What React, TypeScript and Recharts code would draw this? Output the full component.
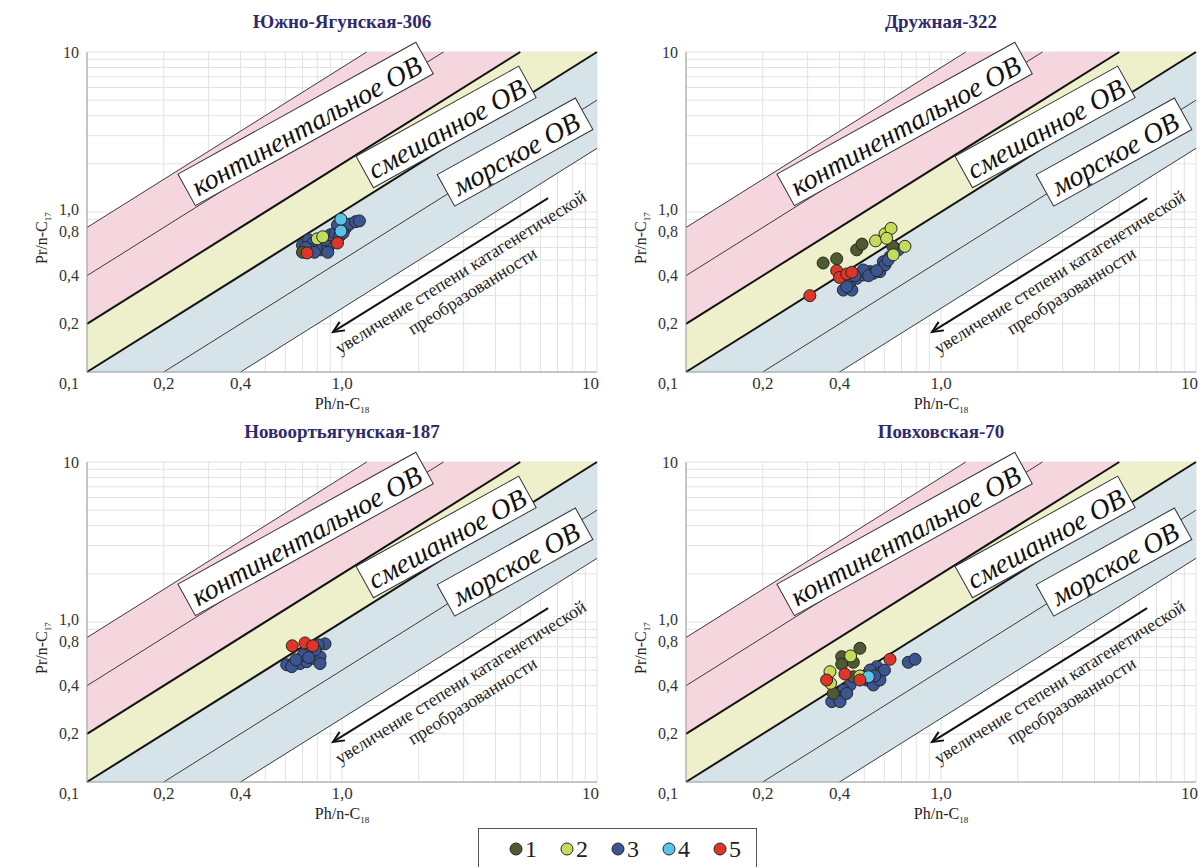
import React from 'react';
import { ComposedChart, Area, Scatter, XAxis, YAxis, CartesianGrid, ReferenceLine, ReferenceDot } from 'recharts';

type Pair = [number, number];

// groups 1..5
const GROUP_NAMES = ['1', '2', '3', '4', '5'];
const GROUP_COLORS = ['#4f5a30', '#c5dc5a', '#3b5591', '#5bc2e9', '#df3529'];
const DRAW_ORDER = [2, 0, 1, 3, 4];

// Южно-Ягунская-306
const YAG_1: Pair[] = [[0.70, 0.56]];
const YAG_2: Pair[] = [[0.80, 0.68], [0.84, 0.70]];
const YAG_3: Pair[] = [
    [0.70, 0.62], [0.74, 0.67], [0.77, 0.64], [0.80, 0.61], [0.83, 0.58], [0.88, 0.60], [0.91, 0.64],
    [0.75, 0.58], [0.78, 0.56], [0.86, 0.67], [0.90, 0.72], [0.94, 0.74], [0.98, 0.71], [1.03, 0.79],
    [1.07, 0.84], [1.13, 0.87], [1.17, 0.88], [0.96, 0.83], [1.01, 0.74], [0.88, 0.56], [0.72, 0.60],
];
const YAG_4: Pair[] = [[0.99, 0.90], [0.99, 0.76]];
const YAG_5: Pair[] = [[0.73, 0.555], [0.96, 0.64]];

// Дружная-322
const DRU_1: Pair[] = [[0.345, 0.48], [0.39, 0.51], [0.467, 0.58], [0.49, 0.63], [0.647, 0.61]];
const DRU_2: Pair[] = [[0.554, 0.66], [0.603, 0.73], [0.637, 0.79], [0.612, 0.685], [0.722, 0.61], [0.65, 0.54]];
const DRU_3: Pair[] = [
    [0.414, 0.325], [0.447, 0.325], [0.44, 0.367], [0.467, 0.385], [0.496, 0.404], [0.527, 0.424],
    [0.576, 0.424], [0.594, 0.489], [0.631, 0.526], [0.496, 0.434], [0.543, 0.414], [0.603, 0.467],
    [0.427, 0.341], [0.46, 0.40], [0.52, 0.40], [0.56, 0.43], [0.62, 0.50], [0.68, 0.58],
];
const DRU_4: Pair[] = [];
const DRU_5: Pair[] = [[0.306, 0.30], [0.39, 0.43], [0.40, 0.39], [0.427, 0.41], [0.447, 0.42]];

// Новоортьягунская-187
const NOV_1: Pair[] = [];
const NOV_2: Pair[] = [];
const NOV_3: Pair[] = [
    [0.607, 0.54], [0.644, 0.55], [0.685, 0.55], [0.727, 0.565], [0.772, 0.593], [0.82, 0.607],
    [0.858, 0.73], [0.807, 0.72], [0.749, 0.637], [0.705, 0.62], [0.635, 0.526], [0.82, 0.55],
    [0.784, 0.668], [0.74, 0.60], [0.66, 0.58],
];
const NOV_4: Pair[] = [];
const NOV_5: Pair[] = [[0.638, 0.71], [0.716, 0.74], [0.768, 0.71]];

// Повховская-70
const POV_1: Pair[] = [[0.481, 0.685], [0.408, 0.607], [0.408, 0.545], [0.453, 0.56], [0.378, 0.358], [0.453, 0.455]];
const POV_2: Pair[] = [[0.442, 0.613], [0.367, 0.489], [0.369, 0.414], [0.481, 0.46]];
const POV_3: Pair[] = [
    [0.744, 0.56], [0.791, 0.585], [0.56, 0.526], [0.576, 0.478], [0.527, 0.501], [0.511, 0.434],
    [0.44, 0.404], [0.414, 0.376], [0.39, 0.341], [0.373, 0.318], [0.402, 0.318], [0.427, 0.358],
    [0.543, 0.404], [0.576, 0.434], [0.496, 0.445], [0.60, 0.50], [0.55, 0.46],
];
const POV_4: Pair[] = [[0.519, 0.455]];
const POV_5: Pair[] = [[0.631, 0.585], [0.356, 0.434], [0.42, 0.473], [0.481, 0.434]];

const PANELS = [
    { title: 'Южно-Ягунская-306', groups: [YAG_1, YAG_2, YAG_3, YAG_4, YAG_5] },
    { title: 'Дружная-322', groups: [DRU_1, DRU_2, DRU_3, DRU_4, DRU_5] },
    { title: 'Новоортьягунская-187', groups: [NOV_1, NOV_2, NOV_3, NOV_4, NOV_5] },
    { title: 'Повховская-70', groups: [POV_1, POV_2, POV_3, POV_4, POV_5] },
];

// genetic fields (diagonal bands), [low, high] at each x
const BAND_X = [0.1, 0.4, 1.25, 5, 10];
const CONT_LOW = [0.2, 0.8, 2.5, 10, 10];
const CONT_HIGH = [0.8, 3.2, 10, 10, 10];
const MIX_LOW = [0.1, 0.4, 1.25, 5, 10];
const MIX_HIGH = [0.2, 0.8, 2.5, 10, 10];
const MAR_LOW = [0.1, 0.1, 0.3125, 1.25, 2.5];
const MAR_HIGH = [0.1, 0.4, 1.25, 5, 10];

const bandData = BAND_X.map((x, i) => ({
    x,
    cont: [CONT_LOW[i], CONT_HIGH[i]],
    mix: [MIX_LOW[i], MIX_HIGH[i]],
    mar: [MAR_LOW[i], MAR_HIGH[i]],
}));

// boundary lines: Pr/C17 = k * Ph/C18
const BOUNDARIES: [Pair, Pair][] = [
    [[0.1, 0.8], [1.25, 10]],
    [[0.1, 0.4], [2.5, 10]],
    [[0.1, 0.2], [5, 10]],
    [[0.1, 0.1], [10, 10]],
    [[0.2, 0.1], [10, 5]],
    [[0.4, 0.1], [10, 2.5]],
];
const BOUNDARY_WIDTHS = [1, 1, 2, 2, 1, 1];

const FIELD_LABELS = ['континентальное ОВ', 'смешанное ОВ', 'морское ОВ'];
const FIELD_LABEL_POS: Pair[] = [[0.72, 3.55], [2.56, 3.4], [4.77, 2.37]];
const FIELD_BOX_W = [272, 186, 158];

const ARROW_FROM: Pair = [6.43, 1.22];
const ARROW_TO: Pair = [0.922, 0.178];
const ARROW_TEXT_POS: Pair = [2.92, 0.42];
const ARROW_TEXT = ['увеличение степени катагенетической', 'преобразованности'];

const GRID_VALUES = [0.1, 0.2, 0.3, 0.4, 0.5, 0.6, 0.7, 0.8, 0.9, 1, 2, 3, 4, 5, 6, 7, 8, 9, 10];
const X_TICKS = [0.1, 0.2, 0.4, 1, 10];
const X_TICK_LABELS = ['', '0,2', '0,4', '1,0', '10'];
const Y_TICKS = [0.1, 0.2, 0.4, 0.8, 1, 10];
const Y_TICK_LABELS = ['0,1', '0,2', '0,4', '0,8', '1,0', '10'];

const SERIF = '"Liberation Serif", "Times New Roman", serif';
const tickStyle = { fontFamily: SERIF, fontSize: 17, fill: '#333' };

const XTick = (props: any) => {
    const { x, y, payload } = props;
    const label = X_TICK_LABELS[X_TICKS.indexOf(payload.value)];
    const atEnd = payload.value === 10;
    return (
        <text x={atEnd ? x + 2 : x} y={y} dy="0.75em" textAnchor={atEnd ? 'end' : 'middle'} {...tickStyle}>
            {label}
        </text>
    );
};

// "0,1" sits under the corner, "1,0" / "0,8" are pushed apart a little
const yShift = (v: number) => (v === 0.1 ? 11 : v === 1 ? -3 : v === 0.8 ? 4 : 0);

const YTick = (props: any) => {
    const { x, y, payload } = props;
    const label = Y_TICK_LABELS[Y_TICKS.indexOf(payload.value)];
    return (
        <text x={x} y={y + yShift(payload.value)} textAnchor="end" dominantBaseline="central" {...tickStyle} fontSize={16}>
            {label}
        </text>
    );
};

const arrowShape = (p: any) => {
    const { x1, y1, x2, y2 } = p;
    const len = Math.hypot(x2 - x1, y2 - y1) || 1;
    const ux = (x2 - x1) / len;
    const uy = (y2 - y1) / len;
    const head = 11;
    const wing = 5;
    const bx = x2 - ux * head;
    const by = y2 - uy * head;
    return (
        <g>
            <line x1={x1} y1={y1} x2={x2} y2={y2} stroke="#111" strokeWidth={2} />
            <polyline
                points={`${bx - uy * wing},${by + ux * wing} ${x2},${y2} ${bx + uy * wing},${by - ux * wing}`}
                fill="none"
                stroke="#111"
                strokeWidth={2}
            />
        </g>
    );
};

const fieldLabelShape = (i: number) => (p: any) => {
    const w = FIELD_BOX_W[i];
    const h = 36;
    return (
        <g transform={`translate(${p.cx},${p.cy}) rotate(-29)`}>
            <rect x={-w / 2} y={-h / 2} width={w} height={h} fill="#fff" stroke="#333" strokeWidth={1} />
            <text
                x={0}
                y={2}
                textAnchor="middle"
                dominantBaseline="central"
                fontFamily={SERIF}
                fontStyle="italic"
                fontSize={28}
                fill="#111"
            >
                {FIELD_LABELS[i]}
            </text>
        </g>
    );
};

const arrowTextShape = (p: any) => (
    <g transform={`translate(${p.cx},${p.cy}) rotate(-32)`}>
        <text x={0} y={0} textAnchor="middle" dominantBaseline="central" fontFamily={SERIF} fontSize={18} fill="#222">
            {ARROW_TEXT[0]}
        </text>
        <text x={0} y={22} textAnchor="middle" dominantBaseline="central" fontFamily={SERIF} fontSize={18} fill="#222">
            {ARROW_TEXT[1]}
        </text>
    </g>
);

const dotShape = (color: string) => (p: any) => (
    <circle cx={p.cx} cy={p.cy} r={6} fill={color} stroke="#262626" strokeWidth={1} />
);

const Panel = ({ panel, left, top, width, rightMargin }: any) => {
    const plotLeft = left + 87;
    const plotRight = left + width - rightMargin;
    const plotCx = (plotLeft + plotRight) / 2;
    return (
        <>
            <div
                style={{
                    position: 'absolute', left: plotCx - 200, top: top + 10, width: 400, textAlign: 'center',
                    fontFamily: SERIF, fontWeight: 'bold', fontSize: 19, color: '#2e2a6c', lineHeight: '24px',
                }}
            >
                {panel.title}
            </div>
            <div
                style={{
                    position: 'absolute', left: plotCx - 100, top: top + 394, width: 200, textAlign: 'center',
                    fontFamily: SERIF, fontSize: 16, color: '#222', lineHeight: '20px',
                }}
            >
                Ph/n-C<sub style={{ fontSize: 9 }}>18</sub>
            </div>
            <div
                style={{
                    position: 'absolute', left: left + 45 - 100, top: top + 225, width: 200, textAlign: 'center',
                    fontFamily: SERIF, fontSize: 16, color: '#222', lineHeight: '20px', transform: 'rotate(-90deg)',
                }}
            >
                Pr/n-C<sub style={{ fontSize: 9 }}>17</sub>
            </div>
            <div style={{ position: 'absolute', left, top }}>
                <ComposedChart
                    width={width}
                    height={410}
                    data={bandData}
                    margin={{ top: 52, right: rightMargin, bottom: 0, left: 0 }}
                >
                    <CartesianGrid
                        stroke="#e2e2e2"
                        verticalValues={GRID_VALUES}
                        horizontalValues={GRID_VALUES}
                    />
                    <XAxis
                        dataKey="x"
                        type="number"
                        scale="log"
                        domain={[0.1, 10]}
                        allowDataOverflow
                        ticks={X_TICKS}
                        tick={<XTick />}
                        tickLine={false}
                        tickSize={0}
                        tickMargin={4}
                        height={38}
                        axisLine={{ stroke: '#9a9a9a' }}
                        interval={0}
                    />
                    <YAxis
                        dataKey="y"
                        type="number"
                        scale="log"
                        domain={[0.1, 10]}
                        allowDataOverflow
                        ticks={Y_TICKS}
                        tick={<YTick />}
                        tickLine={false}
                        tickSize={0}
                        tickMargin={8}
                        width={87}
                        axisLine={{ stroke: '#9a9a9a' }}
                        interval={0}
                    />
                    <Area dataKey="cont" type="linear" fill="#f6d6de" fillOpacity={1} stroke="none" isAnimationActive={false} dot={false} activeDot={false} />
                    <Area dataKey="mix" type="linear" fill="#edf0cb" fillOpacity={1} stroke="none" isAnimationActive={false} dot={false} activeDot={false} />
                    <Area dataKey="mar" type="linear" fill="#d6e3e9" fillOpacity={1} stroke="none" isAnimationActive={false} dot={false} activeDot={false} />
                    {BOUNDARIES.map((seg, i) => (
                        <ReferenceLine
                            key={`b-${i}`}
                            segment={[{ x: seg[0][0], y: seg[0][1] }, { x: seg[1][0], y: seg[1][1] }]}
                            stroke={BOUNDARY_WIDTHS[i] > 1 ? '#111' : '#3a3a3a'}
                            strokeWidth={BOUNDARY_WIDTHS[i]}
                            ifOverflow="visible"
                        />
                    ))}
                    {FIELD_LABELS.map((_, i) => (
                        <ReferenceDot
                            key={`f-${i}`}
                            x={FIELD_LABEL_POS[i][0]}
                            y={FIELD_LABEL_POS[i][1]}
                            r={1}
                            ifOverflow="visible"
                            shape={fieldLabelShape(i)}
                        />
                    ))}
                    <ReferenceLine
                        segment={[{ x: ARROW_FROM[0], y: ARROW_FROM[1] }, { x: ARROW_TO[0], y: ARROW_TO[1] }]}
                        shape={arrowShape}
                        ifOverflow="visible"
                    />
                    <ReferenceDot
                        x={ARROW_TEXT_POS[0]}
                        y={ARROW_TEXT_POS[1]}
                        r={1}
                        ifOverflow="visible"
                        shape={arrowTextShape}
                    />
                    {DRAW_ORDER.map((g) => (
                        <Scatter
                            key={`s-${g}`}
                            name={GROUP_NAMES[g]}
                            data={panel.groups[g].map(([x, y]: Pair) => ({ x, y }))}
                            fill={GROUP_COLORS[g]}
                            shape={dotShape(GROUP_COLORS[g])}
                            isAnimationActive={false}
                        />
                    ))}
                </ComposedChart>
            </div>
        </>
    );
};

export default function App() {
    return (
        <div style={{ position: 'absolute', left: 0, top: 0, width: 1203, height: 867, background: '#fff', overflow: 'hidden' }}>
            <Panel panel={PANELS[0]} left={0} top={0} width={599} rightMargin={2} />
            <Panel panel={PANELS[1]} left={599} top={0} width={604} rightMargin={7} />
            <Panel panel={PANELS[2]} left={0} top={410} width={599} rightMargin={2} />
            <Panel panel={PANELS[3]} left={599} top={410} width={604} rightMargin={7} />
            <div
                style={{
                    position: 'absolute', left: 478, top: 828, width: 279, height: 60,
                    border: '1px solid #555', boxSizing: 'border-box', background: '#fff',
                }}
            >
                {GROUP_NAMES.map((name, i) => (
                    <div
                        key={name}
                        style={{
                            position: 'absolute', left: 30 + i * 51, top: 6, display: 'flex', alignItems: 'center',
                            fontFamily: SERIF, fontSize: 24, color: '#222', lineHeight: '28px',
                        }}
                    >
                        <svg width={14} height={14} style={{ marginRight: 2 }}>
                            <circle cx={7} cy={7} r={6} fill={GROUP_COLORS[i]} stroke="#262626" strokeWidth={1} />
                        </svg>
                        {name}
                    </div>
                ))}
            </div>
        </div>
    );
}
